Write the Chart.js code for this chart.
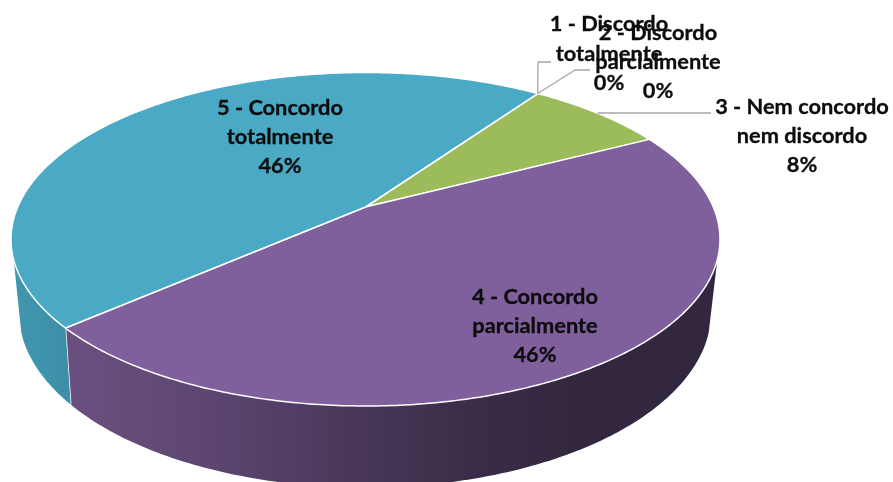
<!DOCTYPE html>
<html>
<head>
<meta charset="utf-8">
<style>html,body{margin:0;padding:0;background:#fff}canvas{display:block}</style>
<script src="https://cdn.jsdelivr.net/npm/chart.js@4/dist/chart.umd.min.js"></script>
</head>
<body>
<canvas id="c" width="893" height="482"></canvas>
<script>
const categories = ['1 - Discordo totalmente','2 - Discordo parcialmente','3 - Nem concordo nem discordo','4 - Concordo parcialmente','5 - Concordo totalmente'];
const values = [0,0,1,6,6];
const labelLines = [['1 - Discordo','totalmente'],['2 - Discordo','parcialmente'],['3 - Nem concordo','nem discordo'],['4 - Concordo','parcialmente'],['5 - Concordo','totalmente']];
const colors = ['#4F81BD','#C0504D','#9CBB5A','#7F609D','#4AA9C5'];
const firstSliceAngle = 35.0;

const labelPos = [[609,24,29.5],[658,33,29],[802,107,29],[535,297,29],[280,108,29]];
const topFace = {cx:365.5, cy:207, a:347.8, b:160.5, k:0.1934};
const lowFace = {cx:365, cy:277.2, a:338.8, b:167.8, k:0.2024};
const wallFrom = 18*Math.PI/180, wallTo = 162*Math.PI/180;

function proj(f, ang){
  const u=Math.cos(ang), v=Math.sin(ang), w=1-f.k*v;
  return [f.cx+f.a*u/w, f.cy+f.b*v/w];
}
function arcPts(ctx,f,a0,a1,first){
  const n=Math.max(2,Math.ceil(Math.abs(a1-a0)*90));
  for(let i=0;i<=n;i++){
    const p=proj(f,a0+(a1-a0)*i/n);
    if(i===0&&first) ctx.moveTo(p[0],p[1]); else ctx.lineTo(p[0],p[1]);
  }
}
function wallFill(ctx,index){
  if(index===4){
    const g=ctx.createLinearGradient(12,0,75,0);
    g.addColorStop(0,'#4197AF'); g.addColorStop(1,'#3C8EA6');
    return g;
  }
  const g=ctx.createLinearGradient(65,0,600,0);
  g.addColorStop(0,'#6C4F81'); g.addColorStop(0.25,'#5E4772');
  g.addColorStop(0.55,'#483758'); g.addColorStop(0.8,'#382B46'); g.addColorStop(1,'#32273E');
  return g;
}
const pie3d = {
  id:'pie3d',
  beforeDatasetDraw(chart,args){
    const ctx=chart.ctx, arcs=chart.getDatasetMeta(args.index).data;
    ctx.save();
    ctx.lineJoin='round';
    // side walls
    arcs.forEach((el,i)=>{
      if(el.endAngle-el.startAngle<=0) return;
      const s=Math.max(el.startAngle,wallFrom), e=Math.min(el.endAngle,wallTo);
      if(e<=s) return;
      ctx.beginPath();
      arcPts(ctx,topFace,s,e,true);
      arcPts(ctx,lowFace,e,s,false);
      ctx.closePath();
      ctx.fillStyle=wallFill(ctx,i);
      ctx.fill();
      // separator between walls
      if(el.endAngle<wallTo){
        const a=proj(topFace,e), b=proj(lowFace,e);
        ctx.beginPath(); ctx.moveTo(a[0],a[1]); ctx.lineTo(b[0],b[1]);
        ctx.strokeStyle='#ffffff'; ctx.lineWidth=1.5; ctx.stroke();
      }
    });
    // top faces
    arcs.forEach((el,i)=>{
      if(el.endAngle-el.startAngle<=0) return;
      ctx.beginPath();
      ctx.moveTo(topFace.cx,topFace.cy);
      arcPts(ctx,topFace,el.startAngle,el.endAngle,false);
      ctx.closePath();
      ctx.fillStyle=el.options.backgroundColor;
      ctx.fill();
      ctx.strokeStyle='#ffffff'; ctx.lineWidth=1.5; ctx.stroke();
    });
    // leader lines
    const apexEdge=proj(topFace,arcs[2].startAngle);
    const mid=proj(topFace,(arcs[2].startAngle+arcs[2].endAngle)/2);
    ctx.strokeStyle='#A6A6A6'; ctx.lineWidth=1.3;
    ctx.beginPath(); ctx.moveTo(apexEdge[0],apexEdge[1]); ctx.lineTo(538,62); ctx.lineTo(551,62); ctx.stroke();
    ctx.beginPath(); ctx.moveTo(apexEdge[0],apexEdge[1]); ctx.lineTo(575,70); ctx.lineTo(590,70); ctx.stroke();
    ctx.beginPath(); ctx.moveTo(mid[0],113); ctx.lineTo(711,113); ctx.stroke();
    ctx.restore();
    return false;
  },
  afterDatasetsDraw(chart){
    const ctx=chart.ctx, total=values.reduce((a,b)=>a+b,0);
    ctx.save();
    ctx.font='bold 21.8px Lato';
    ctx.fillStyle='#0D0D0D';
    ctx.strokeStyle='#0D0D0D';
    ctx.lineWidth=0.3;
    ctx.textAlign='center';
    ctx.textBaseline='middle';
    labelLines.forEach((lines,i)=>{
      const [x,y,lh]=labelPos[i];
      const all=lines.concat([Math.round(values[i]/total*100)+'%']);
      all.forEach((t,j)=>{ctx.fillText(t,x,y+j*lh);ctx.strokeText(t,x,y+j*lh);});
    });
    ctx.restore();
  }
};
new Chart(document.getElementById('c'),{
  type:'pie',
  data:{labels:categories,datasets:[{data:values,backgroundColor:colors,borderWidth:0}]},
  options:{
    responsive:false,animation:false,rotation:firstSliceAngle,
    layout:{padding:0},
    plugins:{legend:{display:false},tooltip:{enabled:false},title:{display:false}}
  },
  plugins:[pie3d]
});
</script>
</body>
</html>
